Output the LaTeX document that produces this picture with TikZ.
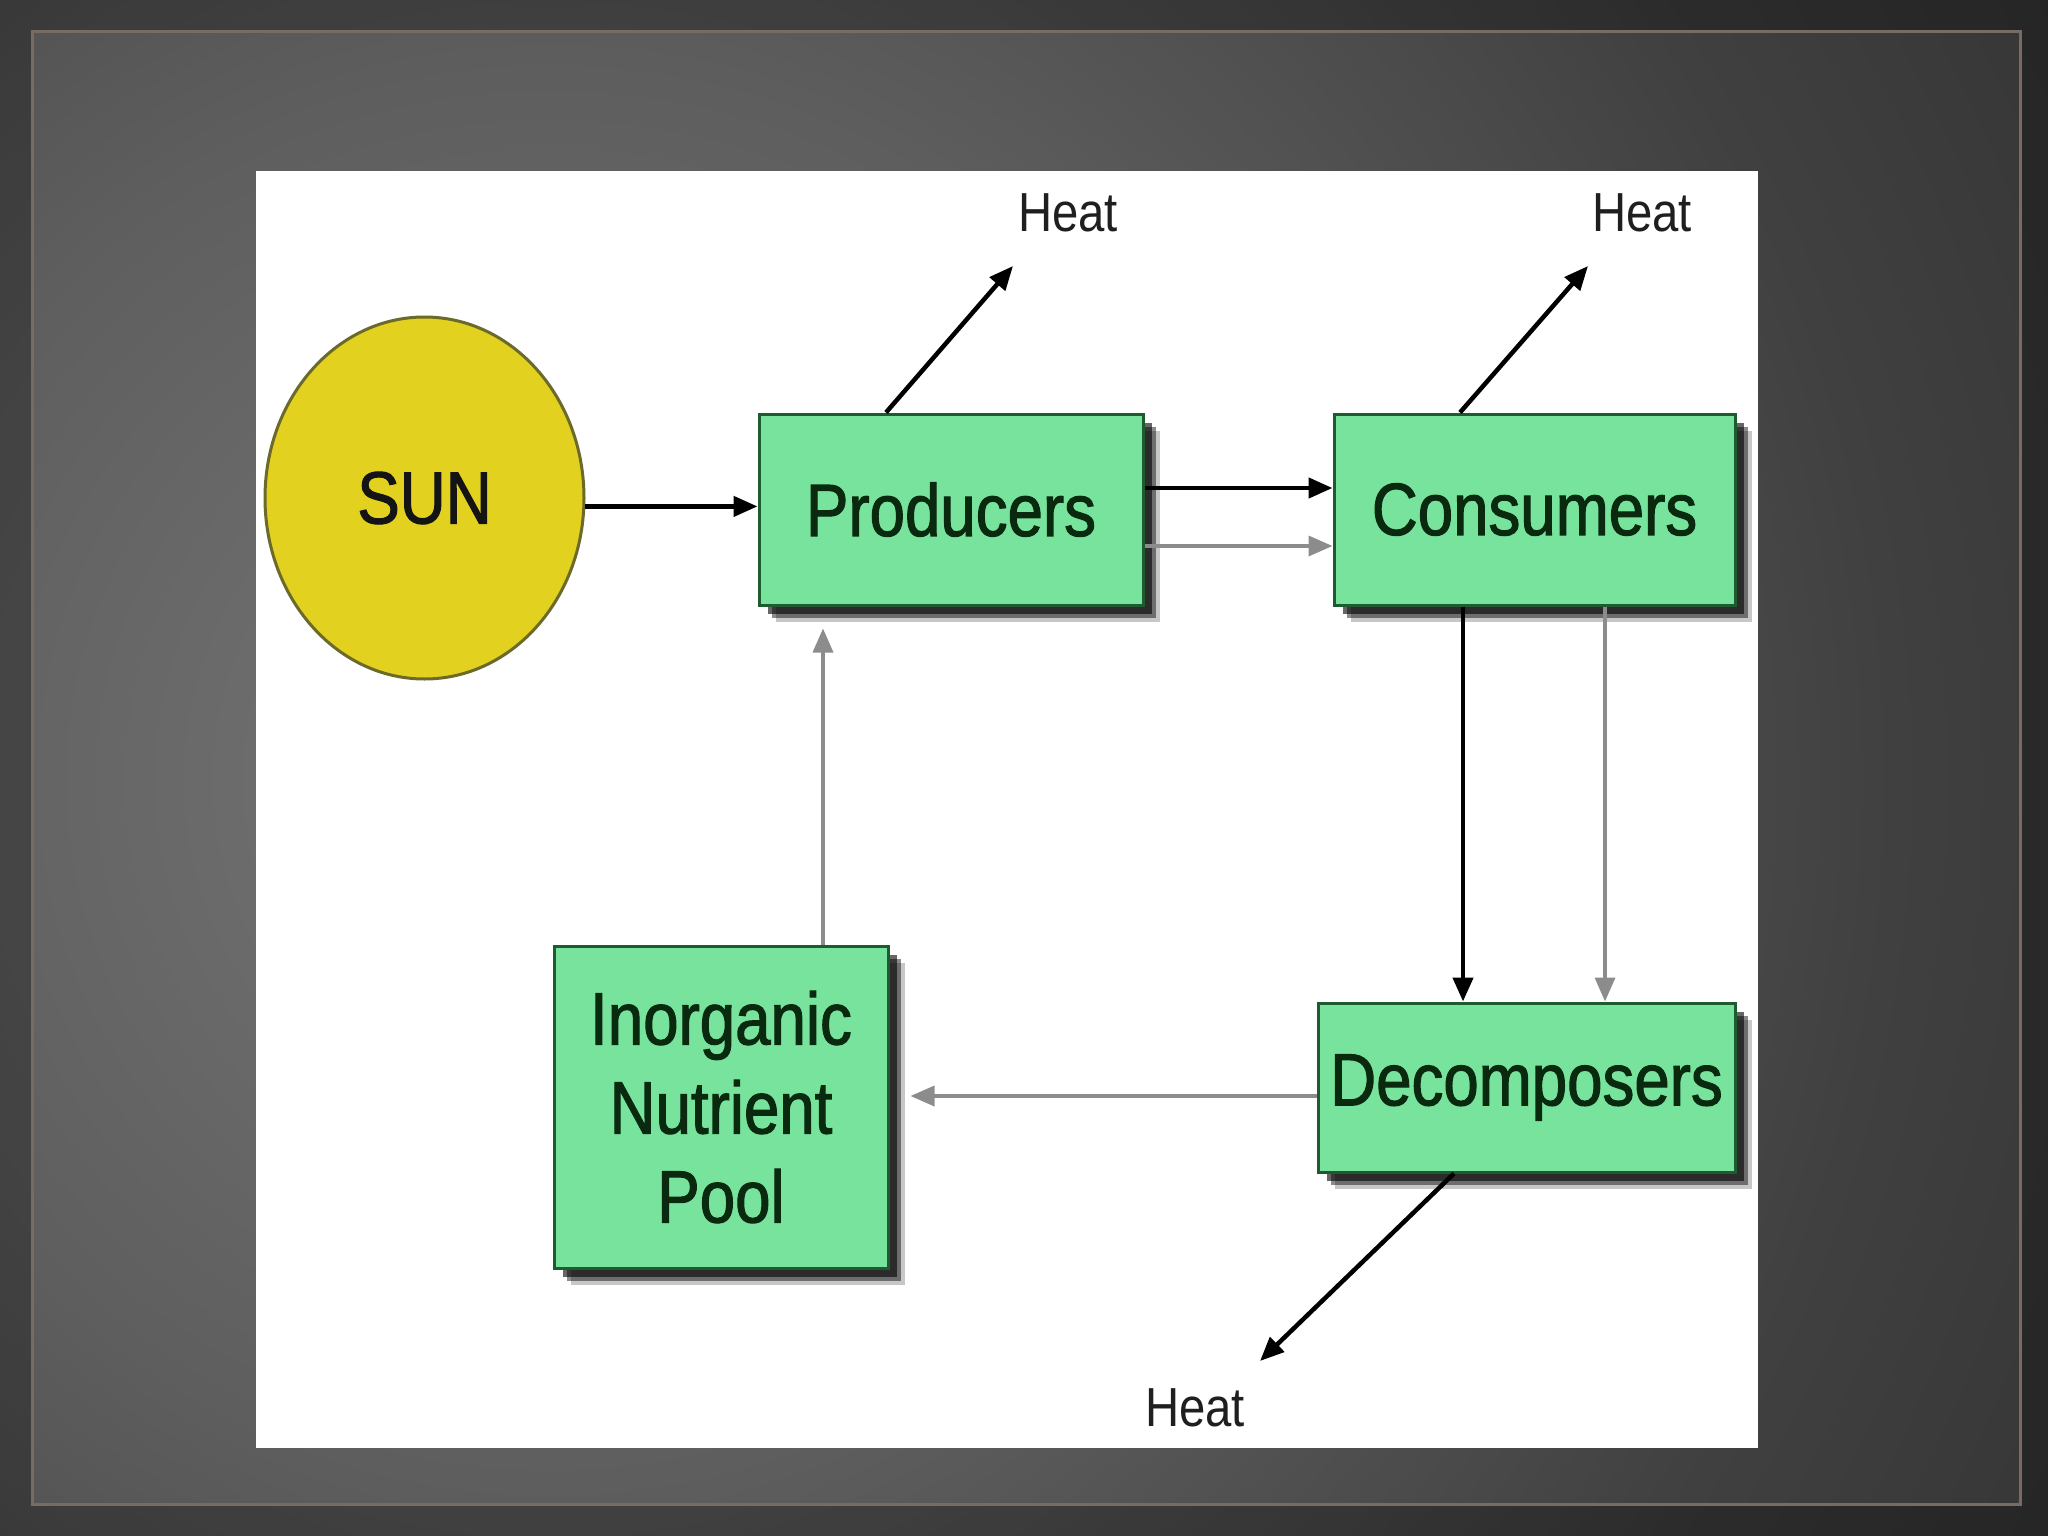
\documentclass[tikz,border=0pt]{standalone}
\usepackage{fontspec}
\setmainfont{Liberation Sans}[FakeStretch=0.86]
\newfontfamily\boxfont{Liberation Sans}[FakeStretch=0.86,FakeBold=1.5]
\usetikzlibrary{arrows.meta,shapes.geometric,shadows,calc}
\definecolor{boxgreen}{HTML}{78E39C}
\definecolor{boxedge}{HTML}{1F5B30}
\definecolor{sunfill}{HTML}{E2D11F}
\definecolor{sunedge}{HTML}{6B6A2A}
\definecolor{txt}{HTML}{0A2A10}
\definecolor{flowgray}{HTML}{8C8C8C}
\definecolor{framec}{HTML}{7A6B62}
\definecolor{bga}{HTML}{767676}
\definecolor{bgb}{HTML}{5E5E5E}
\definecolor{bgc}{HTML}{404040}
\definecolor{bgd}{HTML}{2C2C2C}
\definecolor{bge}{HTML}{242424}
\pgfdeclareradialshading{bgshade}{\pgfpoint{0bp}{0bp}}{color(0bp)=(bga); color(11bp)=(bgb); color(21bp)=(bgc); color(32bp)=(bgd); color(50bp)=(bge)}
\begin{document}
\begin{tikzpicture}[x=1pt,y=-1pt,
  softshadow/.style={
    general shadow={shadow xshift=9pt, shadow yshift=-9pt, fill=black, opacity=0.6},
    general shadow={shadow xshift=13pt, shadow yshift=-13pt, fill=black, opacity=0.45},
    general shadow={shadow xshift=17pt, shadow yshift=-17pt, fill=black, opacity=0.22}},
  compbox/.style={rectangle, draw=boxedge, line width=3pt, fill=boxgreen, text=txt,
    inner sep=0pt, align=center, font=\boxfont\fontsize{74}{89}\selectfont, softshadow},
  sunnode/.style={ellipse, draw=sunedge, line width=3pt, fill=sunfill, text=black!92,
    inner sep=0pt, minimum width=319pt, minimum height=362pt, font=\boxfont\fontsize{74}{89}\selectfont},
  heatlbl/.style={text=black!88, inner sep=0pt, font=\fontsize{55}{66}\selectfont},
  blackflow/.style={draw=black, line width=4.5pt, -{Triangle[length=24pt,width=20pt]}},
  grayflow/.style={draw=flowgray, line width=3.5pt, -{Triangle[length=24pt,width=20pt]}}]
\useasboundingbox (0,0) rectangle (2048,1536);
% background
\begin{scope}
  \clip (0,0) rectangle (2048,1536);
  \shade[shading=bgshade] (-1050,-820) rectangle (2150,2380);
  \fill[black, opacity=0.3, even odd rule] (0,0) rectangle (2048,1536) (32,32) rectangle (2020,1504);
\end{scope}
\draw[framec, line width=3pt] (32,32) rectangle (2020,1504);
% white panel
\fill[white] (256,171) rectangle (1758,1448);
% nodes
\node[sunnode] (sun) at (424.5,498) {SUN};
\node[compbox, minimum width=384pt, minimum height=191pt] (prod) at (951,509.5) {Producers};
\node[compbox, minimum width=401pt, minimum height=191pt] (cons) at (1534.5,509.5) {Consumers};
\node[compbox, minimum width=417pt, minimum height=169pt] (deco) at (1526.5,1087.5) {Decomposers};
\node[compbox, minimum width=334pt, minimum height=322pt] (pool) at (721,1107) {Inorganic\\Nutrient\\Pool};
\node[heatlbl] (heat1) at (1068,213) {Heat};
\node[heatlbl] (heat2) at (1642,213) {Heat};
\node[heatlbl] (heat3) at (1195,1408) {Heat};
\coordinate (tip1) at (1013,266);
\coordinate (tip2) at (1588,266);
\coordinate (tip3) at (1260,1361);
% connectors
\draw[blackflow] (sun.-3) -- (sun.-3 -| prod.west);
\draw[blackflow] ([yshift=21.5pt]prod.east) -- ([yshift=21.5pt]prod.east -| cons.west);
\draw[grayflow] ([yshift=-36.5pt]prod.east) -- ([yshift=-36.5pt]prod.east -| cons.west);
\draw[blackflow] ([xshift=-65pt]prod.north) -- (tip1);
\draw[blackflow] ([xshift=-74.5pt]cons.north) -- (tip2);
\coordinate (cb) at ([xshift=-71.5pt]cons.south);
\coordinate (cg) at ([xshift=70.5pt]cons.south);
\draw[blackflow] (cb) -- (cb |- deco.north);
\draw[grayflow] (cg) -- (cg |- deco.north);
\draw[blackflow] ([xshift=-72.5pt]deco.south) -- (tip3);
\coordinate (dw) at ([yshift=-8.5pt]deco.west);
\draw[grayflow] (dw) -- ($(dw -| pool.east)+(21,0)$);
\coordinate (pn) at ([xshift=102pt]pool.north);
\draw[grayflow] (pn) -- ($(pn |- prod.south)+(0,22)$);
\end{tikzpicture}
\end{document}
